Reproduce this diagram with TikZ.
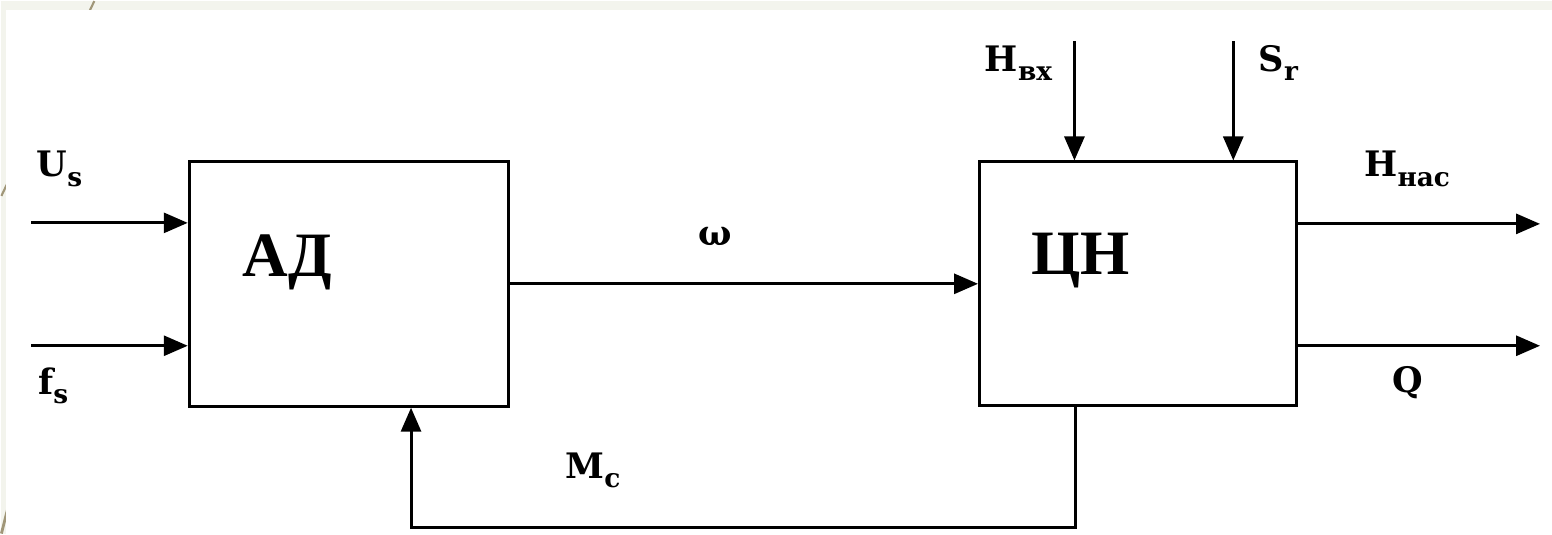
\documentclass[tikz,border=0pt]{standalone}
\usepackage{fontspec}
\setmainfont{Liberation Serif}
\newfontfamily\sigfont{DejaVu Serif}
\usetikzlibrary{arrows.meta}
\definecolor{slide}{RGB}{243,244,237}
\definecolor{slideline}{RGB}{160,150,120}
\newcommand{\lowidx}[1]{\raisebox{-0.5ex}{\fontsize{7.5}{8}\selectfont #1}}

\begin{document}
\begin{tikzpicture}[
  x=0.1mm,y=-0.1mm,
  blk/.style={draw,line width=0.85pt,inner sep=0pt},
  sig/.style={-{Triangle[length=2.4mm,width=2mm]},line width=0.85pt},
  blktxt/.style={font=\bfseries\fontsize{18}{20}\selectfont,inner sep=0pt},
  lbl/.style={font=\sigfont\bfseries\fontsize{10}{11}\selectfont,inner sep=0pt}
]
  % slide background
  \fill[slide] (0,0) rectangle (1552,533);
  \draw[slideline,line width=0.6pt] (93,0) -- (0,195);
  \draw[slideline,line width=0.8pt] (16,470) -- (0,533);
  \fill[white] (5,9) rectangle (1552,533);

  % blocks
  \node[blk,minimum width=32mm,minimum height=24.5mm] (ad) at (348,283) {};
  \node[blk,minimum width=31.7mm,minimum height=24.4mm] (cn) at (1137.5,283) {};
  \node[blktxt] (adtxt) at (286,262) {АД};
  \node[blktxt] (cntxt) at (1080,260) {ЦН};

  % free ends
  \coordinate (us) at (30,222);
  \coordinate (fs) at (30,345);
  \coordinate (hin) at (1074,40);
  \coordinate (sr) at (1233,40);
  \coordinate (hout) at (1540,223);
  \coordinate (qout) at (1540,345);
  \coordinate (fbr) at (1075,527);
  \coordinate (fbl) at (410,527);

  % signals
  \draw[sig] (us) -- (us -| ad.west);
  \draw[sig] (fs) -- (fs -| ad.west);
  \draw[sig] (ad.east) -- (cn.west);
  \draw[sig] (hin) -- (hin |- cn.north);
  \draw[sig] (sr) -- (sr |- cn.north);
  \draw[sig] (hout -| cn.east) -- (hout);
  \draw[sig] (qout -| cn.east) -- (qout);
  \draw[sig] (fbr |- cn.south) -- (fbr) -- (fbl) -- (fbl |- ad.south);

  % labels
  \node[lbl] (uslbl) at (58,168) {U\lowidx{s}};
  \node[lbl] (fslbl) at (52,385) {f\lowidx{s}};
  \node[lbl] (wlbl) at (714,236) {ω};
  \node[lbl] (mclbl) at (592,470) {M\lowidx{c}};
  \node[lbl] (hinlbl) at (1018,62) {H\lowidx{вх}};
  \node[lbl] (srlbl) at (1278,62) {S\lowidx{r}};
  \node[lbl] (houtlbl) at (1407,168) {H\lowidx{нас}};
  \node[lbl] (qlbl) at (1408,382) {Q};
\end{tikzpicture}
\end{document}
